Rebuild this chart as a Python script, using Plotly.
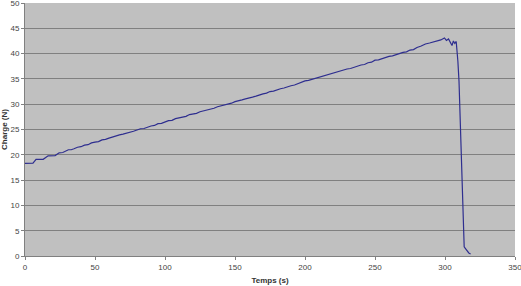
import plotly.graph_objects as go

temps = [0, 2, 4, 5.7, 7.9, 10, 13, 16.5, 19, 21.5, 24.4, 27, 31, 33, 35, 37.5, 40, 42.5, 45, 47.5, 50,
         52.5, 55, 57.5, 60, 62.5, 65, 67.5, 70, 72.5, 75, 77.5, 80, 82.5, 85, 87.5, 90, 92.5, 95,
         97.5, 100, 102.5, 105, 107.5, 110, 112.5, 115, 117.5, 120, 122.5, 125, 127.5, 130, 132.5,
         135, 137.5, 140, 142.5, 145, 147.5, 150, 152.5, 155, 157.5, 160, 162.5, 165, 167.5, 170,
         172.5, 175, 177.5, 180, 182.5, 185, 187.5, 190, 192.5, 195, 197.5, 200, 202.5, 205, 207.5,
         210, 212.5, 215, 217.5, 220, 222.5, 225, 227.5, 230, 232.5, 235, 237.5, 240, 242.5, 245,
         247.5, 250, 252.5, 255, 257.5, 260, 262.5, 265, 267.5, 270, 272.5, 275, 277.5, 280, 283,
         286, 289, 292, 295, 297, 299.6, 301, 302.5, 304, 305, 306, 307, 308, 308.6, 309.2, 310,
         310.6, 311.4, 312, 312.7, 313.3, 313.7, 314.5, 315.3, 316, 317, 318.3]
charge = [18.3, 18.3, 18.3, 18.35, 19.1, 19.1, 19.1, 19.8, 19.8, 19.85, 20.4, 20.45, 21.0, 21.0, 21.2, 21.5, 21.6, 21.9, 22.0, 22.35, 22.5,
          22.6, 22.95, 23.05, 23.3, 23.55, 23.65, 23.95, 24.1, 24.25, 24.55, 24.65, 24.9, 25.15, 25.2, 25.5, 25.7, 25.8, 26.15,
          26.2, 26.5, 26.75, 26.8, 27.15, 27.3, 27.4, 27.6, 27.95, 28.05, 28.2, 28.5, 28.65, 28.9, 29.05,
          29.2, 29.5, 29.65, 29.85, 30.1, 30.2, 30.5, 30.75, 30.85, 31.05, 31.3, 31.4, 31.6, 31.9, 32.05,
          32.2, 32.5, 32.6, 32.9, 33.05, 33.2, 33.5, 33.65, 33.8, 34.1, 34.3, 34.6, 34.7, 34.9, 35.2,
          35.4, 35.5, 35.7, 36.05, 36.15, 36.3, 36.5, 36.85, 36.95, 37.05, 37.3, 37.6, 37.75, 37.85, 38.2,
          38.3, 38.7, 38.75, 39.0, 39.3, 39.45, 39.55, 39.8, 40.1, 40.25, 40.35, 40.7, 40.8, 41.2, 41.5,
          41.9, 42.1, 42.3, 42.6, 42.7, 43.1, 42.6, 42.9, 42.2, 41.6, 42.5, 42.0, 42.4, 41.0, 38.5, 34.6,
          29.5, 23.0, 18.5, 10.0, 4.5, 1.8, 1.5, 1.2, 0.9, 0.6, 0.4]

xticks = [0, 50, 100, 150, 200, 250, 300, 350]
yticks = [0, 5, 10, 15, 20, 25, 30, 35, 40, 45, 50]

fig = go.Figure()
fig.add_trace(go.Scatter(x=temps, y=charge, mode="lines",
                         line=dict(color="#2e2e8f", width=1.2), showlegend=False,
                         hoverinfo="skip"))

font_fam = "Liberation Sans, Arial, sans-serif"
fig.update_layout(
    width=521, height=286,
    margin=dict(l=25, r=6, t=3, b=30, autoexpand=False),
    paper_bgcolor="white",
    plot_bgcolor="#c0c0c0",
    font=dict(family=font_fam, size=8, color="#444444"),
    xaxis=dict(range=[0, 350], tickvals=xticks, showgrid=False, zeroline=False,
               showline=True, linecolor="#808080", linewidth=1, automargin=False,
               ticks="outside", ticklen=3, tickcolor="#808080",
               ticklabeloverflow="allow",
               title=dict(text="<b>Temps (s)</b>", font=dict(size=8, color="#333333"), standoff=6),
               tickfont=dict(size=8, color="#444444")),
    yaxis=dict(range=[0, 50], tickvals=yticks, showgrid=True, gridcolor="#808080", gridwidth=1,
               zeroline=False, showline=True, linecolor="#808080", linewidth=1, automargin=False,
               ticks="outside", ticklen=3, tickcolor="#808080",
               ticklabeloverflow="allow",
               title=dict(text="<b>Charge (N)</b>", font=dict(size=8, color="#333333"), standoff=2),
               tickfont=dict(size=8, color="#444444")),
)
fig.write_html("out.html")
